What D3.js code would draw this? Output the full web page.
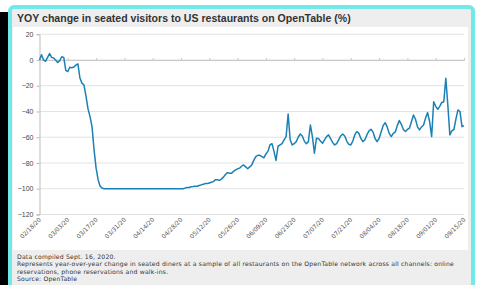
<!DOCTYPE html>
<html><head><meta charset="utf-8">
<script src="https://cdn.jsdelivr.net/npm/d3@7"></script>
<style>html,body{margin:0;padding:0;background:#fff;}svg{display:block;}</style>
</head><body>
<svg id="chart" width="479" height="285"></svg>
<script>
const title = "YOY change in seated visitors to US restaurants on OpenTable (%)";
const notes = [
  "Data compiled Sept. 16, 2020.",
  "Represents year-over-year change in seated diners at a sample of all restaurants on the OpenTable network across all channels: online",
  "reservations, phone reservations and walk-ins.",
  "Source: OpenTable"
];
const startDate = "2020-02-18";
const tickLabels = ["02/18/20","03/03/20","03/17/20","03/31/20","04/14/20","04/28/20","05/12/20","05/26/20","06/09/20","06/23/20","07/07/20","07/21/20","08/04/20","08/18/20","09/01/20","09/15/20"];
const yTicks = [20,0,-20,-40,-60,-80,-100,-120];
// daily YOY change (%), 02/18/20 .. 09/15/20
const values = [
  0,4,0,-1,2,5,2,1.5,0,-2,
  -0.5,2.5,2,-8,-9,-5.7,-6,-5.5,-4,-3,
  -14,-18,-19.5,-28,-38,-44,-52,-70,-84,-93,
  -98,-99.5,-100,-100,-100,-100,-100,-100,-100,-100,
  -100,-100,-100,-100,-100,-100,-100,-100,-100,-100,
  -100,-100,-100,-100,-100,-100,-100,-100,-100,-100,
  -100,-100,-100,-100,-100,-100,-100,-100,-100,-100,
  -100,-100,-99.5,-99,-99,-98.5,-98.3,-98,-98,-97.5,
  -97,-96.5,-96,-96,-95.5,-95,-94.5,-93,-93,-93.5,
  -92.5,-91,-89,-87.5,-88,-88,-86.5,-85.4,-84.5,-84,
  -82.5,-81.5,-83,-84.5,-83,-81.5,-78,-75,-74,-74,
  -75,-76,-73,-71,-66,-65,-71,-78,-67,-66,
  -65,-62,-59.5,-42,-62,-66,-65,-63.4,-60,-57.5,
  -59,-63,-65,-63.4,-50.5,-59.5,-72.4,-60.8,-61,-63,
  -64.7,-62,-59.5,-58.2,-61,-64,-66,-65,-62,-59,
  -57.5,-59,-63,-65.5,-66,-63,-58,-55.6,-57,-61,
  -63.4,-62,-58,-55,-53.8,-56,-61,-63.4,-61,-56,
  -51,-48.7,-52,-57,-59.5,-57,-56,-51,-47,-50,
  -54,-55.6,-54,-53,-48,-42.7,-46,-52,-54.3,-52,
  -50.5,-45,-40.9,-48,-59.5,-32.4,-36,-38.3,-36,-33,
  -32.4,-14.2,-35,-58.2,-55,-54,-46,-38.8,-40,-51.8,
  -51
];

const svg = d3.select("#chart");
const W = 479, H = 285;
svg.append("rect").attr("width", W).attr("height", H).attr("fill", "#fff");
svg.append("rect").attr("x", 0).attr("y", 12).attr("width", 8).attr("height", H).attr("fill", "#000");
svg.append("rect").attr("x", 10).attr("y", 7).attr("width", 463).attr("height", 300).attr("rx", 4)
  .attr("fill", "#eeeeee").attr("stroke", "#72e8e8").attr("stroke-width", 4);
svg.append("rect").attr("x", 13).attr("y", 27).attr("width", 455).attr("height", 223).attr("fill", "#fff");

const t = svg.append("text").attr("x", 17).attr("y", 22).text(title)
  .attr("font-family", "Liberation Sans, Arial, sans-serif").attr("font-weight", "bold")
  .attr("font-size", 9).attr("fill", "#333");
const tl = t.node().getComputedTextLength();
t.attr("font-size", 9 * 334 / tl);

const parse = d3.timeParse("%Y-%m-%d");
const t0 = parse(startDate);
const data = values.map((v, i) => ({ date: d3.timeDay.offset(t0, i), v }));
const x = d3.scaleTime().domain([t0, d3.timeDay.offset(t0, values.length - 1)]).range([39.5, 464]);
const y = d3.scaleLinear().domain([-120, 20]).range([214.5, 34.2]);

// gridlines
svg.append("g").selectAll("line").data(yTicks).join("line")
  .attr("x1", 39.5).attr("x2", 464).attr("y1", d => y(d)).attr("y2", d => y(d))
  .attr("stroke", "#e3e3e3").attr("stroke-width", 1);

// y axis
const yAxis = svg.append("g").attr("transform", "translate(39.5,0)")
  .call(d3.axisLeft(y).tickValues(yTicks).tickSize(3).tickPadding(3));
yAxis.select(".domain").attr("stroke", "#bbb");
yAxis.selectAll(".tick line").attr("stroke", "#bbb");
yAxis.selectAll("text").attr("font-family", "Liberation Sans, Arial, sans-serif").attr("font-size", 7).attr("fill", "#444");

// x axis line at zero with ticks
const tickDates = tickLabels.map((s, i) => d3.timeDay.offset(t0, i * 14));
const xAxis = svg.append("g").attr("transform", `translate(0,${y(0)})`)
  .call(d3.axisTop(x).tickValues(tickDates).tickSize(2).tickFormat(""));
xAxis.select(".domain").attr("stroke", "#c8c8c8");
xAxis.selectAll(".tick line").attr("stroke", "#c8c8c8");

// x labels
svg.append("g").selectAll("text").data(tickDates).join("text")
  .attr("transform", (d) => `translate(${x(d) + 2},${220}) rotate(-45)`)
  .attr("text-anchor", "end")
  .attr("font-family", "DejaVu Sans, sans-serif").attr("font-size", 6).attr("fill", "#555")
  .text((d, i) => tickLabels[i]);

// line
svg.append("path").datum(data)
  .attr("d", d3.line().x(d => x(d.date)).y(d => y(d.v)))
  .attr("fill", "none").attr("stroke", "#1b80b5").attr("stroke-width", 1.5).attr("stroke-linejoin", "round");

// notes
const nt = svg.append("g").selectAll("text").data(notes).join("text")
  .attr("x", 17).attr("y", (d, i) => 259 + i * 7.3)
  .attr("font-family", "DejaVu Sans, sans-serif").attr("font-size", 6.1).attr("fill", "#333")
  .text(d => d);
const n2 = nt.nodes()[1];
const nl = n2.getComputedTextLength();
const ls = Math.max(0, (437 - nl) / notes[1].length);
nt.attr("letter-spacing", ls);
</script>
</body></html>
